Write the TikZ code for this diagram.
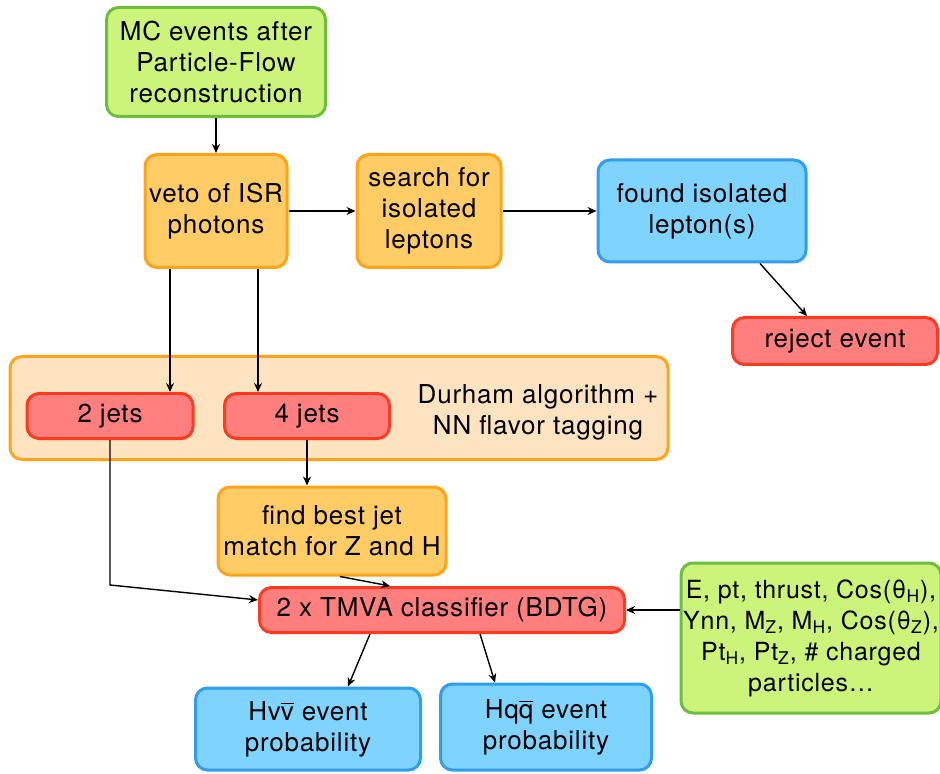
\documentclass[tikz,border=0pt]{standalone}
\usepackage{fontspec}
\setmainfont{TeX Gyre Heros}[LetterSpace=3]
\usetikzlibrary{positioning,arrows.meta}

\definecolor{mcgreen}{HTML}{CCF47A}
\definecolor{mcgreenline}{HTML}{6DBE3C}
\definecolor{cutorange}{HTML}{FFCC66}
\definecolor{cutorangeline}{HTML}{FFA319}
\definecolor{resblue}{HTML}{7FD4FF}
\definecolor{resblueline}{HTML}{2E9EF0}
\definecolor{jetred}{HTML}{FF7F7F}
\definecolor{jetredline}{HTML}{FF3B1F}
\definecolor{algofill}{HTML}{FDE3BF}

\newcommand{\barletter}[1]{\ensuremath{\overline{\hbox{#1}}}}

\begin{document}
\begin{tikzpicture}[x=0.5pt, y=-0.5pt,
  box/.style={rectangle, draw, rounded corners=6pt, line width=1.5pt, align=center, inner sep=0pt, font=\fontsize{13}{15.5}\selectfont},
  greenbox/.style={box, fill=mcgreen, draw=mcgreenline},
  orangebox/.style={box, fill=cutorange, draw=cutorangeline},
  bluebox/.style={box, fill=resblue, draw=resblueline},
  redbox/.style={box, fill=jetred, draw=jetredline},
  arrow/.style={-{Stealth[length=4.5pt, width=4pt]}, line width=0.7pt},
]
\useasboundingbox (0,0) rectangle (940,774);

% === Preselection ===
\node[greenbox, minimum width=109.5pt, minimum height=54.5pt] (mc) at (216,62) {MC events after\\Particle-Flow\\reconstruction};
\node[orangebox, minimum width=71pt, minimum height=56.5pt] (veto) at (216,211) {veto of ISR\\photons};
\node[orangebox, minimum width=72pt, minimum height=56.5pt] (search) at (429,211) {search for\\isolated\\leptons};
\node[bluebox, minimum width=104pt, minimum height=51pt] (found) at (702,211) {found isolated\\lepton(s)};
\node[redbox, minimum width=102.5pt, minimum height=23.5pt] (reject) at (835,341) {reject event};

% === Jet clustering ===
\node[box, fill=algofill, draw=cutorangeline, minimum width=329pt, minimum height=51.5pt] (durham) at (339,408) {};
\node[redbox, minimum width=83pt, minimum height=22.5pt] (twojets) at (110,416) {2 jets};
\node[redbox, minimum width=82.5pt, minimum height=22.5pt] (fourjets) at (307,416) {4 jets};
\node[font=\fontsize{13}{15.5}\selectfont, align=center] (durhamtxt) at (538,412) {Durham algorithm +\\NN flavor tagging};
\node[orangebox, minimum width=114pt, minimum height=44pt] (best) at (332,531) {find best jet\\match for Z and H};

% === Classification ===
\node[redbox, minimum width=182.5pt, minimum height=22.5pt] (tmva) at (442,610) {2 x TMVA classifier (BDTG)};
\node[greenbox, minimum width=130pt, minimum height=75pt, font=\fontsize{12.5}{15.5}\selectfont] (vars) at (811,638)
  {E, pt, thrust, Cos(θ\textsubscript{H}),\\Ynn, M\textsubscript{Z}, M\textsubscript{H}, Cos(θ\textsubscript{Z}),\\Pt\textsubscript{H}, Pt\textsubscript{Z}, \# charged\\particles…};
\node[bluebox, minimum width=112.5pt, minimum height=41pt] (hvv) at (308,729) {Hv\barletter{v} event\\probability};
\node[bluebox, minimum width=105.5pt, minimum height=43pt] (hqq) at (546,727) {Hq\barletter{q} event\\probability};

\coordinate (bend) at (110,585);

\draw[arrow] (mc) -- (veto);
\draw[arrow] (veto) -- (search);
\draw[arrow] (search) -- (found);
\draw[arrow] ([xshift=29pt]found.south) -- ([xshift=-14pt]reject.north);
\draw[arrow] ([xshift=-23pt]veto.south) -- ([xshift=-23pt]veto.south |- twojets.north);
\draw[arrow] ([xshift=21pt]veto.south) -- ([xshift=21pt]veto.south |- fourjets.north);
\draw[arrow] (fourjets.south) -- (fourjets.south |- best.north);
\draw[arrow] (twojets.south) -- (bend) -- ([yshift=5pt]tmva.west);
\draw[arrow] ([xshift=4pt]best.south) -- ([xshift=-26pt]tmva.north);
\draw[arrow] (tmva.east -| vars.west) -- (tmva.east);
\draw[arrow] ([xshift=-36pt]tmva.south) -- ([xshift=20pt]hvv.north);
\draw[arrow] ([xshift=19pt]tmva.south) -- ([xshift=-25.5pt]hqq.north);

\end{tikzpicture}
\end{document}
